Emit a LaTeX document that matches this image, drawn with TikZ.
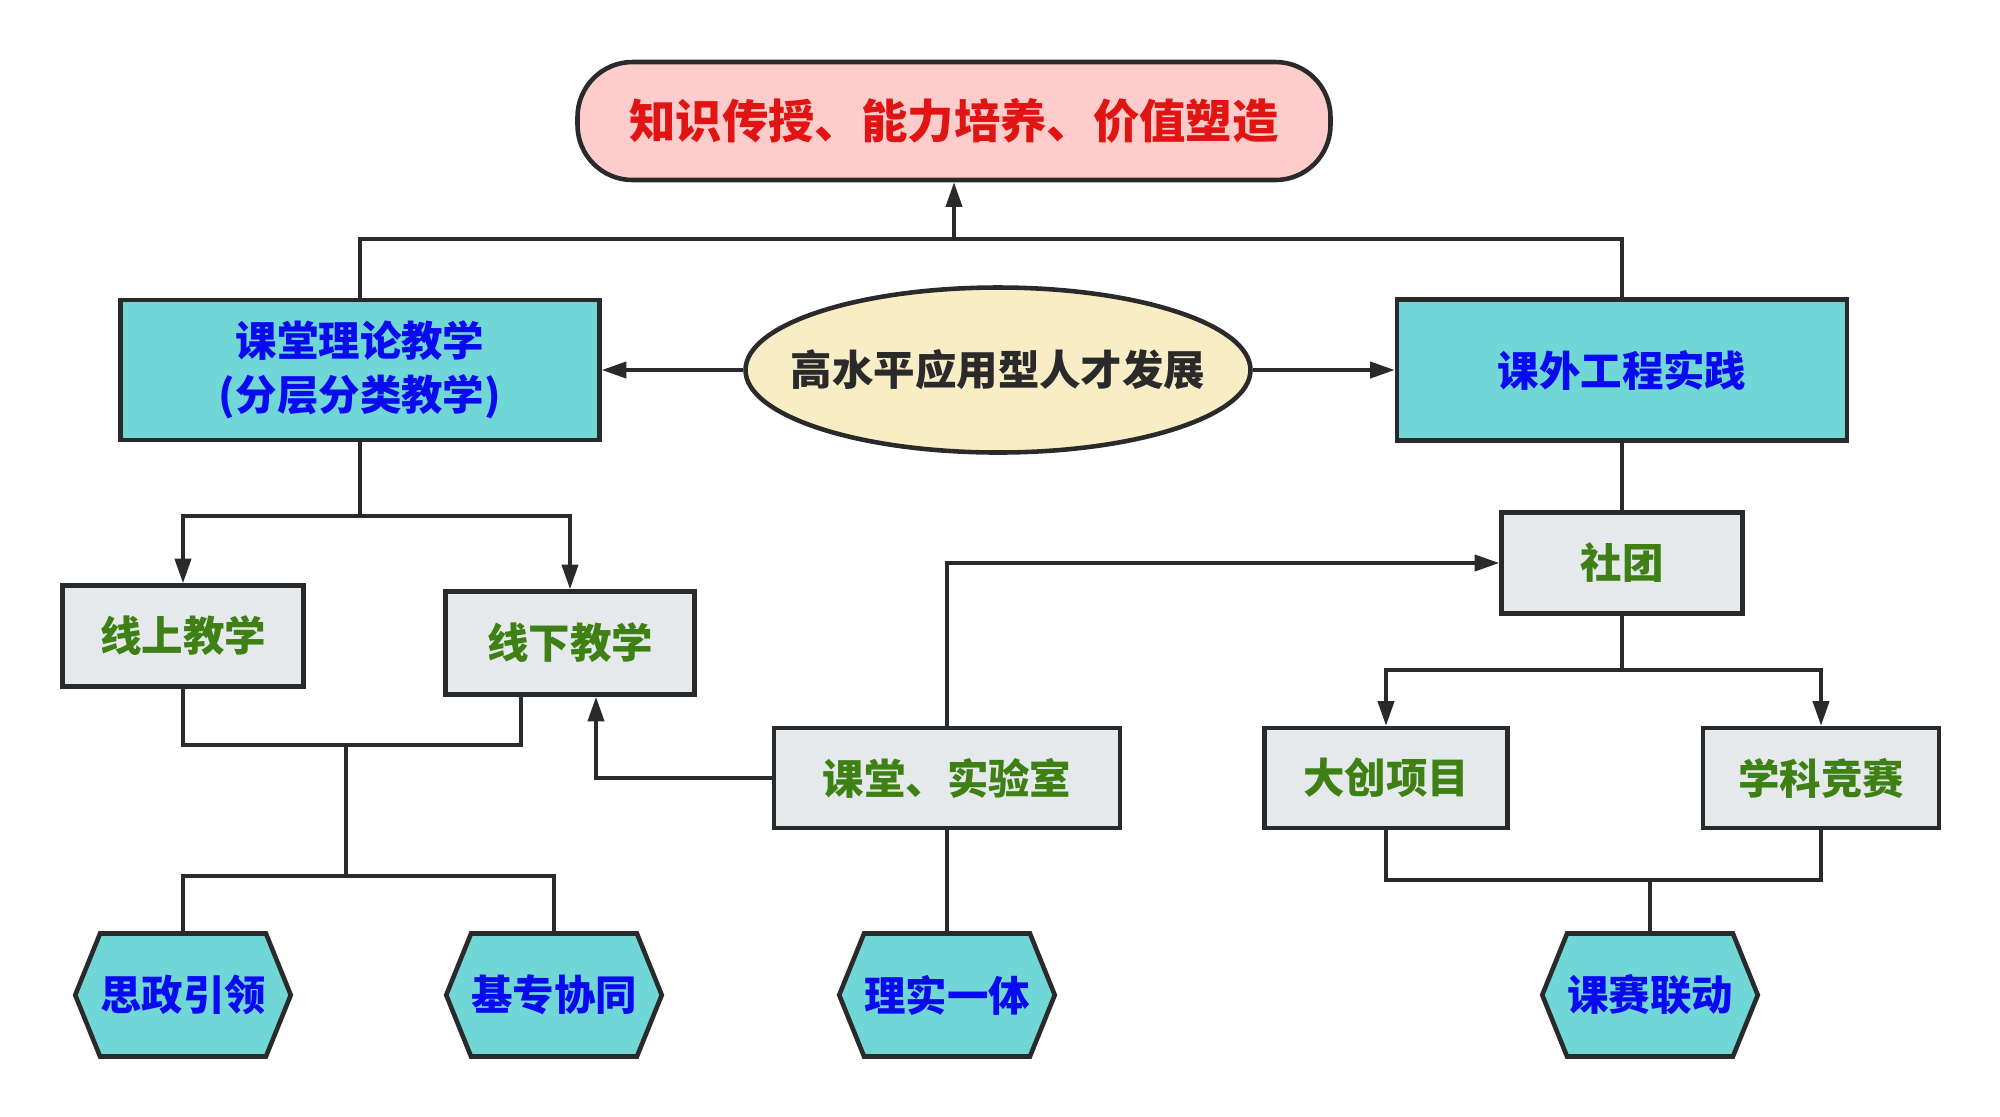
\documentclass[tikz,border=0pt]{standalone}
\usepackage{fontspec}
\setmainfont{Noto Sans CJK SC}[BoldFont={Noto Sans CJK SC Black}]
\usetikzlibrary{arrows.meta,shapes.geometric,shapes.symbols}
\definecolor{borde}{RGB}{42,42,42}
\definecolor{cian}{RGB}{112,214,214}
\definecolor{rosa}{RGB}{255,204,204}
\definecolor{crema}{RGB}{249,237,198}
\definecolor{gris}{RGB}{230,233,236}
\definecolor{verdetxt}{RGB}{62,128,20}
\definecolor{azultxt}{RGB}{10,10,240}
\definecolor{rojotxt}{RGB}{225,20,20}
\begin{document}
\begin{tikzpicture}[
	txt/.style={font=\fontsize{11.8}{15.4}\selectfont\bfseries},
	greybox/.style={txt, draw=borde, line width=1.3pt, fill=gris, text=verdetxt, inner sep=0pt},
	cyanbox/.style={txt, draw=borde, line width=1.3pt, fill=cian, text=azultxt, inner sep=0pt, align=center},
	hexnode/.style={txt, shape=signal, signal to=west and east, signal pointer angle=136, draw=borde, line width=1.3pt, fill=cian, text=azultxt, minimum width=2.15cm, minimum height=1.23cm, inner sep=0pt},
	link/.style={draw=borde, line width=1pt},
	arrowlink/.style={link, -{Triangle[length=7pt,width=4.6pt]}}]
	\useasboundingbox (0,0) rectangle (20,-11.16);
	% metas
	\node[draw=borde, line width=1.3pt, fill=rosa, text=rojotxt, rounded corners=0.55cm, minimum width=7.53cm, minimum height=1.18cm, font=\fontsize{13.2}{16}\selectfont\bfseries] (goal) at (9.54,-1.21) {知识传授、能力培养、价值塑造};
	\node[cyanbox, minimum width=4.79cm, minimum height=1.40cm] (theory) at (3.60,-3.70) {课堂理论教学\\(分层分类教学)};
	\node[txt, shape=ellipse, draw=borde, line width=1.3pt, fill=crema, text=borde, minimum width=5.05cm, minimum height=1.65cm, inner xsep=-0.3cm, inner ysep=0pt] (talent) at (9.98,-3.70) {高水平应用型人才发展};
	\node[cyanbox, minimum width=4.50cm, minimum height=1.41cm] (practice) at (16.22,-3.70) {课外工程实践};
	% cajas grises
	\node[greybox, minimum width=2.41cm, minimum height=1.01cm] (online) at (1.83,-6.36) {线上教学};
	\node[greybox, minimum width=2.49cm, minimum height=1.03cm] (offline) at (5.70,-6.43) {线下教学};
	\node[greybox, minimum width=2.41cm, minimum height=1.01cm] (club) at (16.22,-5.63) {社团};
	\node[greybox, minimum width=3.46cm, minimum height=1.00cm] (lab) at (9.47,-7.78) {课堂、实验室};
	\node[greybox, minimum width=2.43cm, minimum height=1.00cm] (project) at (13.86,-7.78) {大创项目};
	\node[greybox, minimum width=2.36cm, minimum height=1.00cm] (contest) at (18.21,-7.78) {学科竞赛};
	% hexagonos
	\node[hexnode] (sizheng) at (1.83,-9.95) {思政引领};
	\node[hexnode] (jizhuan) at (5.54,-9.95) {基专协同};
	\node[hexnode] (lishi) at (9.47,-9.95) {理实一体};
	\node[hexnode] (kesai) at (16.50,-9.95) {课赛联动};
	% conectores
	\coordinate (topbus) at (9.54,-2.39);
	\draw[link] (theory.north) |- (topbus) -| (practice.north);
	\draw[arrowlink] (topbus) -- (goal.south);
	\draw[arrowlink] (talent.west) -- (theory.east);
	\draw[arrowlink] (talent.east) -- (practice.west);
	\coordinate (theorybus) at (3.60,-5.16);
	\draw[link] (theory.south) -- (theorybus);
	\draw[arrowlink] (theorybus) -| (online.north);
	\draw[arrowlink] (theorybus) -| (offline.north);
	\coordinate (mixbus) at (3.46,-7.45);
	\coordinate (hexbus) at (3.46,-8.76);
	\draw[link] (online.south) |- (mixbus) -| ([xshift=-4.9mm]offline.south);
	\draw[link] (mixbus) -- (hexbus);
	\draw[link] (sizheng.north) |- (hexbus) -| (jizhuan.north);
	\draw[arrowlink] (lab.west) -| ([xshift=2.6mm]offline.south);
	\draw[arrowlink] (lab.north) |- (club.west);
	\draw[link] (lab.south) -- (lishi.north);
	\draw[link] (practice.south) -- (club.north);
	\coordinate (clubbus) at (16.22,-6.70);
	\draw[link] (club.south) -- (clubbus);
	\draw[arrowlink] (clubbus) -| (project.north);
	\draw[arrowlink] (clubbus) -| (contest.north);
	\coordinate (kesaibus) at (16.50,-8.80);
	\draw[link] (project.south) |- (kesaibus) -| (contest.south);
	\draw[link] (kesaibus) -- (kesai.north);
\end{tikzpicture}
\end{document}
